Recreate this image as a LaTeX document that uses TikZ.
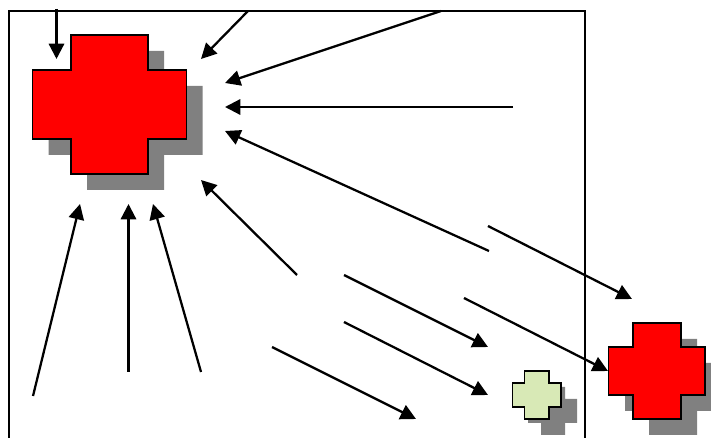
\documentclass[tikz,border=0pt]{standalone}
\usetikzlibrary{arrows.meta}
\tikzset{
  arrowline/.style={draw=black,line width=1.7pt,-{Triangle[length=11.5pt,width=11.5pt]},shorten <=0pt},
  framebox/.style={draw=black,line width=1.5pt},
  crossline/.style={draw=black,line width=1.4pt,line join=miter},
  shade fill/.style={fill=shadowgray},
}
\definecolor{shadowgray}{RGB}{128,128,128}
\definecolor{paleleaf}{RGB}{216,233,182}
% #1 x0, #2 x1, #3 x2, #4 x3, #5 y0, #6 y1, #7 y2, #8 y3
\newcommand{\crosspath}[8]{(#2,#5) -- (#3,#5) -- (#3,#6) -- (#4,#6) -- (#4,#7) -- (#3,#7) -- (#3,#8) -- (#2,#8) -- (#2,#7) -- (#1,#7) -- (#1,#6) -- (#2,#6) -- cycle}
\begin{document}
\begin{tikzpicture}[x=0.75pt,y=-0.75pt]
\useasboundingbox (0,0) rectangle (711,438);
\clip (0,0) rectangle (711,438);
% frame
\draw[framebox] (8.5,445) -- (8.5,11) -- (585,11) -- (585,445);
% big cross
\fill[shade fill] \crosspath{48.5}{87}{164}{202.5}{51}{86}{155}{190};
\draw[crossline,fill=red] \crosspath{32.5}{71}{148}{186.5}{35}{70}{139}{174};
% right cross
\fill[shade fill] \crosspath{625}{649}{697}{721}{339}{363}{411}{435};
\draw[crossline,fill=red] \crosspath{608.5}{633}{681}{705}{323}{347}{395}{419};
% small cross
\fill[shade fill] \crosspath{528}{541}{565}{577}{387}{399}{423}{435};
\draw[crossline,fill=paleleaf] \crosspath{512.5}{524.5}{549}{561}{371}{383}{407}{419};
% connector ends
\coordinate (a1) at (56.5,9);    \coordinate (b1) at (56.5,59);
\coordinate (a2) at (248,11);  \coordinate (b2) at (201,59);
\coordinate (a3) at (441,11);  \coordinate (b3) at (225,83);
\coordinate (a4) at (513,107); \coordinate (b4) at (225,107);
\coordinate (a5) at (489,251); \coordinate (b5) at (225,131);
\coordinate (a6) at (297,275); \coordinate (b6) at (201,180);
\coordinate (a7) at (33,396);  \coordinate (b7) at (80,204);
\coordinate (a8) at (128.5,372); \coordinate (b8) at (128.5,204);
\coordinate (a9) at (201,372); \coordinate (b9) at (153,204);
\coordinate (a10) at (488,226); \coordinate (b10) at (632,299);
\coordinate (a11) at (464,298); \coordinate (b11) at (608,371);
\coordinate (a12) at (344,275); \coordinate (b12) at (488,347);
\coordinate (a13) at (344,322); \coordinate (b13) at (488,395);
\coordinate (a14) at (272,347); \coordinate (b14) at (416,419);
\foreach \i in {1,...,14} {
  \draw[arrowline] (a\i) -- (b\i);
}
\end{tikzpicture}
\end{document}
